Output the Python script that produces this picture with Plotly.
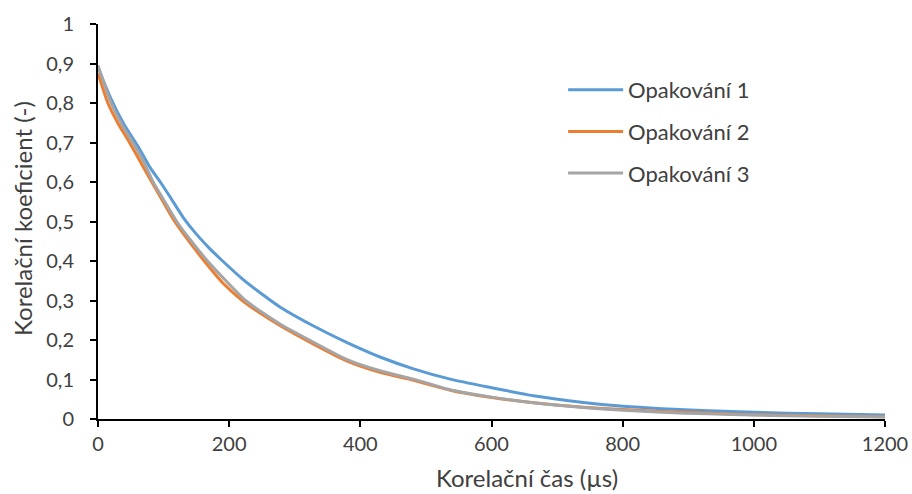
import plotly.graph_objects as go

# Correlation time (µs) and correlation coefficient for three repeated measurements
cas_1 = [0, 20, 40, 60, 80, 95, 110, 130, 150, 170, 190, 220, 255, 278, 328, 379,
         430, 481, 537, 598, 664, 740, 801, 860, 930, 1000, 1100, 1200]
koef_1 = [0.89, 0.81, 0.745, 0.693, 0.635, 0.60, 0.562, 0.510, 0.468, 0.432, 0.40, 0.355,
          0.31, 0.283, 0.236, 0.194, 0.157, 0.127, 0.101, 0.080, 0.059, 0.042, 0.032,
          0.026, 0.021, 0.017, 0.013, 0.010]

cas_2 = [0, 15, 30, 48, 65, 82, 100, 117, 140, 162, 190, 220, 250, 278, 328, 379,
         430, 481, 537, 598, 664, 740, 801, 860, 930, 1000, 1100, 1200]
koef_2 = [0.875, 0.80, 0.75, 0.70, 0.65, 0.60, 0.548, 0.50, 0.447, 0.40, 0.345, 0.30,
          0.265, 0.236, 0.190, 0.147, 0.118, 0.098, 0.073, 0.055, 0.041, 0.030, 0.024,
          0.019, 0.015, 0.011, 0.008, 0.006]

cas_3 = [0, 20, 40, 53, 70, 84, 100, 120, 140, 167, 195, 225, 250, 278, 328, 379,
         430, 481, 537, 598, 664, 740, 801, 860, 930, 1000, 1100, 1200]
koef_3 = [0.895, 0.80, 0.735, 0.70, 0.65, 0.60, 0.555, 0.50, 0.455, 0.40, 0.35, 0.30,
          0.27, 0.240, 0.195, 0.151, 0.122, 0.101, 0.074, 0.056, 0.041, 0.029, 0.022,
          0.017, 0.013, 0.010, 0.007, 0.005]

nazvy = ["Opakování 1", "Opakování 2", "Opakování 3"]
barvy = ["#5B9BD5", "#ED7D31", "#A5A5A5"]

x_ticks = [0, 200, 400, 600, 800, 1000, 1200]
x_ticktext = ["0", "200", "400", "600", "800", "1000", "1200"]
y_ticks = [0, 0.1, 0.2, 0.3, 0.4, 0.5, 0.6, 0.7, 0.8, 0.9, 1]
y_ticktext = ["0", "0,1", "0,2", "0,3", "0,4", "0,5", "0,6", "0,7", "0,8", "0,9", "1"]

FONT = "Lato, 'Open Sans', sans-serif"
TXT = "#404040"

fig = go.Figure()
for i, (xs, ys) in enumerate([(cas_1, koef_1), (cas_2, koef_2), (cas_3, koef_3)]):
    fig.add_trace(go.Scatter(
        x=xs, y=ys, mode="lines", name=nazvy[i], legendgroup=nazvy[i],
        line=dict(color=barvy[i], width=3, shape="spline", smoothing=0.6),
    ))

axis_common = dict(showgrid=False, zeroline=False, showline=True, linecolor="black",
                   linewidth=2, ticks="outside", ticklen=6, tickwidth=2, tickcolor="black",
                   automargin=False)
inner_ticks = dict(showticklabels=False, showgrid=False, zeroline=False, showline=False,
                   ticks="inside", ticklen=6, tickwidth=2, tickcolor="black",
                   automargin=False)

fig.update_layout(
    width=912, height=494,
    margin=dict(l=98, r=27, t=24, b=75),
    paper_bgcolor="white", plot_bgcolor="white",
    font=dict(family=FONT, size=20, color=TXT),
    showlegend=True,
    legend=dict(x=0.591, y=0.886, xanchor="left", yanchor="top",
                font=dict(family=FONT, size=22, color=TXT),
                itemwidth=55, tracegroupgap=10, bgcolor="rgba(0,0,0,0)"),
    xaxis=dict(range=[0, 1200], tickvals=x_ticks, ticktext=x_ticktext,
               tickfont=dict(size=20), **axis_common),
    yaxis=dict(range=[0, 1], tickvals=y_ticks, ticktext=y_ticktext,
               tickfont=dict(size=20), ticklabelstandoff=12, **axis_common),
    # companion axes providing the inner half of the crossing tick marks
    xaxis2=dict(overlaying="x", anchor="y", side="bottom", range=[0, 1200],
                tickvals=x_ticks, **inner_ticks),
    yaxis2=dict(overlaying="y", anchor="x", side="left", range=[0, 1],
                tickvals=y_ticks, **inner_ticks),
    annotations=[
        dict(text="Korelační čas (µs)", xref="paper", yref="paper", x=0.545, y=-0.149,
             xanchor="center", yanchor="middle", showarrow=False,
             font=dict(family=FONT, size=24, color=TXT)),
        dict(text="Korelační koeficient (-)", xref="paper", yref="paper", x=-0.0953, y=0.509,
             xanchor="center", yanchor="middle", showarrow=False, textangle=-90,
             font=dict(family=FONT, size=24, color=TXT)),
    ],
)

fig.write_html("out.html")
